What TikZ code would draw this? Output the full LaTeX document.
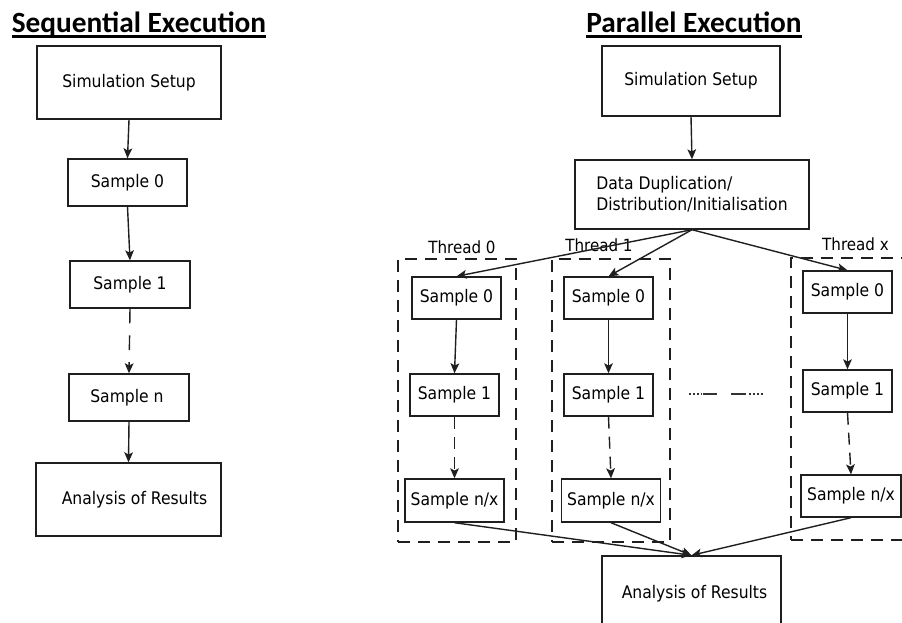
\documentclass[tikz,border=0pt]{standalone}
\usepackage{fontspec}
\setmainfont{DejaVu Sans Condensed}
\newfontfamily\headfont{Carlito}
\usetikzlibrary{arrows.meta}

\tikzset{
  ink/.style={draw=black!88, line width=1.05pt},
  box/.style={ink, inner sep=0pt, align=center, font=\fontsize{13}{16}\selectfont},
  bigbox/.style={box, minimum width=138pt, minimum height=54.75pt},
  smpbox/.style={box, minimum width=66.75pt, minimum height=31.5pt},
  nxbox/.style={box, minimum width=74.25pt, minimum height=32.25pt},
  flow/.style={ink, -{Stealth[length=7.5pt,width=6.5pt,inset=1.7pt]}},
  flowdash/.style={flow, dash pattern=on 9pt off 6pt},
  threadbox/.style={ink, dash pattern=on 9pt off 6pt, inner sep=0pt,
                    minimum width=88.5pt, minimum height=212.25pt},
  threadlabel/.style={inner sep=0pt, font=\fontsize{12.6}{15}\selectfont},
  heading/.style={inner sep=0pt, anchor=base,
                  font=\headfont\bfseries\fontsize{22}{26}\selectfont},
  rule/.style={draw=black, line width=2pt},
  skip/.style={draw=black!80, line width=0.9pt}
}

\begin{document}
\begin{tikzpicture}[x=0.75pt, y=-0.75pt]
\useasboundingbox (0,0) rectangle (902,622);
\clip (0,0) rectangle (902,622);

% ---------- headings ----------
\node[heading] (hseq) at (139,32) {Sequential Execution};
\node[heading] (hpar) at (694,32) {Parallel Execution};
\draw[rule] ([yshift=-3.6pt]hseq.base west) -- ([yshift=-3.6pt]hseq.base east);
\draw[rule] ([yshift=-3.6pt]hpar.base west) -- ([yshift=-3.6pt]hpar.base east);

% ---------- sequential chain ----------
\node[bigbox] (sq-setup) at (129,82.5) {Simulation Setup};
\node[smpbox, minimum width=89.25pt, minimum height=35.25pt] (sq-s0) at (127.5,182.5) {Sample 0};
\node[smpbox, minimum width=90pt, minimum height=35.25pt] (sq-s1) at (130,284.5) {Sample 1};
\node[smpbox, minimum width=90pt, minimum height=35.25pt] (sq-sn) at (129,397.5) {Sample n\hspace*{3pt}};
\node[bigbox, minimum width=138.75pt] (sq-res) at (128.5,499.5) {\hspace*{9pt}Analysis of Results};

\draw[flow] (sq-setup.south) -- (sq-s0.north);
\draw[flow] (sq-s0.south) -- (sq-s1.north);
\draw[flowdash, dash pattern=on 11pt off 9pt] (sq-s1.south) -- (sq-sn.north);
\draw[flow] (sq-sn.south) -- (sq-res.north);

% ---------- parallel: setup and distribution ----------
\node[bigbox, minimum width=133.5pt, minimum height=52.5pt] (pa-setup) at (691,81) {Simulation Setup};
\node[box, minimum width=175.5pt, minimum height=51.75pt, align=left] (pa-dist) at (692,194.5)
  {Data Duplication/\\Distribution/Initialisation};
\draw[flow] (pa-setup.south) -- (pa-dist.north);

% ---------- thread frames (the last one runs past the right edge) ----------
\node[threadbox] (th0) at (457,400.5) {};
\node[threadbox] (th1) at (611,400.5) {};
\node[threadbox, minimum width=150pt, minimum height=211.5pt] (thx) at (891,399) {};
\node[threadlabel] (lab0) at (462,247) {Thread 0};
\node[threadlabel] (lab1) at (599,245) {Thread 1};
\node[threadlabel] (labx) at (855.5,244) {Thread x};

% ---------- thread 0 ----------
\node[smpbox] (a0) at (456.5,298) {Sample 0};
\node[smpbox] (a1) at (454.5,395) {Sample 1};
\node[nxbox]  (an) at (454.5,500.5) {Sample n/x};
% ---------- thread 1 ----------
\node[smpbox] (b0) at (608.5,298) {Sample 0};
\node[smpbox] (b1) at (608.5,395) {Sample 1};
\node[nxbox]  (bn) at (611,500.5) {Sample n/x};
% ---------- thread x ----------
\node[smpbox] (c0) at (847.5,292) {Sample 0};
\node[smpbox] (c1) at (847.5,391) {Sample 1};
\node[nxbox, minimum width=75pt, minimum height=31.5pt] (cn) at (851,496) {Sample n/x};

\foreach \t in {a,b,c}{
  \draw[flow] (\t0.south) -- (\t1.north);
  \draw[flowdash] (\t1.south) -- (\t n.north);
}

% fan-out from the distribution step
\draw[flow] (pa-dist.south) -- (a0.north);
\draw[flow] (pa-dist.south) -- (b0.north);
\draw[flow] (pa-dist.south) -- (c0.north);

% ---------- gathering results ----------
\node[box, minimum width=134.25pt, minimum height=57pt] (pa-res) at (691.5,594) {\hspace*{4.5pt}Analysis of Results};
\draw[flow] (an.south) -- (pa-res.north);
\draw[flow] (bn.south) -- (pa-res.north);
\draw[flow] (cn.south) -- (pa-res.north);

% ---------- elided threads ----------
\draw[skip, dash pattern=on 1.3pt off 1.7pt] (689,394) -- (702,394);
\draw[skip] (703,394) -- (717,394) (731,394) -- (746,394);
\draw[skip, dash pattern=on 1.3pt off 1.7pt] (749,394) -- (763,394);
\end{tikzpicture}
\end{document}
